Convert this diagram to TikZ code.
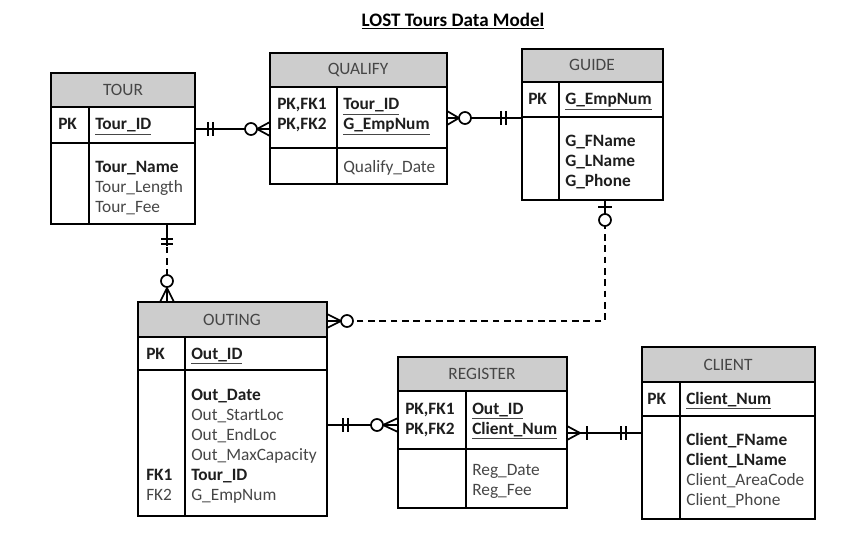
\documentclass[tikz,border=0pt]{standalone}
\usepackage{fontspec}
\setmainfont{Carlito}
\usetikzlibrary{calc}
\definecolor{hdrgray}{RGB}{205,205,205}
\definecolor{txtgray}{RGB}{70,70,70}
\definecolor{txtdark}{RGB}{30,30,30}
\tikzset{
	hdr/.style={fill=hdrgray},
	ent/.style={draw=black, line width=1pt},
	htxt/.style={text=txtgray, inner sep=0pt, font=\fontsize{13}{15}\selectfont},
	lbl/.style={anchor=base west, inner sep=0pt, align=left, text=txtgray, font=\fontsize{13}{15}\selectfont},
	rel/.style={line width=1.3pt},
	optrel/.style={rel, dash pattern=on 5pt off 3.5pt},
	knob/.style={rel, fill=white}
}
\newcommand{\bk}[1]{\textcolor{txtdark}{\textbf{#1}}}
\newcommand{\pkey}[1]{\underline{\bk{#1}}}

\begin{document}
\begin{tikzpicture}[x=0.75pt, y=-0.75pt]
	\useasboundingbox (0,0) rectangle (859,556);
	
	% Title
	\node[font=\fontsize{14.3}{16}\selectfont\bfseries] (title) at (453,21) {\underline{LOST Tours Data Model}};
	
	% TOUR (multi-line labels sit on their last baseline)
	\fill[hdr] (51,73) rectangle (195,107);
	\draw[ent] (51,73) rectangle (195,224);
	\draw[ent] (51,107) -- (195,107) (51,143) -- (195,143) (89,107) -- (89,224);
	\node[htxt] (tourH) at (123,90) {TOUR};
	\node[lbl] (tourPK) at (58,130) {\bk{PK}};
	\node[lbl] (tourKey) at (95,130) {\pkey{Tour\_ID}};
	\node[lbl] (tourAtt) at (95,212) {\bk{Tour\_Name}\\Tour\_Length\\Tour\_Fee};
	
	% QUALIFY
	\fill[hdr] (270,53) rectangle (447,87);
	\draw[ent] (270,53) rectangle (447,184);
	\draw[ent] (270,87) -- (447,87) (270,148) -- (447,148) (337,87) -- (337,184);
	\node[htxt] (qualH) at (358,70) {QUALIFY};
	\node[lbl] (qualPK) at (277,130) {\bk{PK,FK1}\\\bk{PK,FK2}};
	\node[lbl] (qualKey) at (343,130) {\pkey{Tour\_ID}\\\pkey{G\_EmpNum}};
	\node[lbl] (qualAtt) at (343,172) {Qualify\_Date};
	
	% GUIDE
	\fill[hdr] (522,49) rectangle (663,82);
	\draw[ent] (522,49) rectangle (663,200);
	\draw[ent] (522,82) -- (663,82) (522,117) -- (663,117) (559,82) -- (559,200);
	\node[htxt] (guideH) at (592,65) {GUIDE};
	\node[lbl] (guidePK) at (528,105) {\bk{PK}};
	\node[lbl] (guideKey) at (565,105) {\pkey{G\_EmpNum}};
	\node[lbl] (guideAtt) at (565,186) {\bk{G\_FName}\\\bk{G\_LName}\\\bk{G\_Phone}};
	
	% OUTING
	\fill[hdr] (138,302) rectangle (327,337);
	\draw[ent] (138,302) rectangle (327,516);
	\draw[ent] (138,337) -- (327,337) (138,370) -- (327,370) (185,337) -- (185,516);
	\node[htxt] (outH) at (232,320) {OUTING};
	\node[lbl] (outPK) at (146,359) {\bk{PK}};
	\node[lbl] (outKey) at (191,359) {\pkey{Out\_ID}};
	\node[lbl] (outAtt) at (191,500) {\bk{Out\_Date}\\Out\_StartLoc\\Out\_EndLoc\\Out\_MaxCapacity\\\bk{Tour\_ID}\\G\_EmpNum};
	\node[lbl] (outFK) at (146,500) {\bk{FK1}\\FK2};
	
	% REGISTER
	\fill[hdr] (398,357) rectangle (567,391);
	\draw[ent] (398,357) rectangle (567,508);
	\draw[ent] (398,391) -- (567,391) (398,449) -- (567,449) (466,391) -- (466,508);
	\node[htxt] (regH) at (482,374) {REGISTER};
	\node[lbl] (regPK) at (405,434) {\bk{PK,FK1}\\\bk{PK,FK2}};
	\node[lbl] (regKey) at (472,434) {\pkey{Out\_ID}\\\pkey{Client\_Num}};
	\node[lbl] (regAtt) at (472,495) {Reg\_Date\\Reg\_Fee};
	
	% CLIENT
	\fill[hdr] (642,347) rectangle (815,382);
	\draw[ent] (642,347) rectangle (815,519);
	\draw[ent] (642,382) -- (815,382) (642,416) -- (815,416) (680,382) -- (680,519);
	\node[htxt] (cliH) at (728,365) {CLIENT};
	\node[lbl] (cliPK) at (647,404) {\bk{PK}};
	\node[lbl] (cliKey) at (686,404) {\pkey{Client\_Num}};
	\node[lbl] (cliAtt) at (686,505) {\bk{Client\_FName}\\\bk{Client\_LName}\\Client\_AreaCode\\Client\_Phone};
	
	% Connector ends
	\coordinate (tourR) at (195,129); \coordinate (qualL) at (270,129);
	\coordinate (qualR) at (447,118); \coordinate (guideL) at (522,118);
	\coordinate (guideB) at (605,200); \coordinate (outR) at (327,321);
	\coordinate (tourB) at (167,224); \coordinate (outT) at (167,302);
	\coordinate (outE) at (327,425); \coordinate (regL) at (398,425);
	\coordinate (regR) at (567,433); \coordinate (cliL) at (642,433);
	
	% TOUR -- QUALIFY
	\draw[rel] (tourR) -- (qualL);
	\draw[rel] (208,122) -- (208,136) (213,122) -- (213,136);
	\draw[rel] (257,129) -- (270,122) (257,129) -- (270,136);
	\draw[knob] (251,129) circle (4.5pt);
	
	% QUALIFY -- GUIDE
	\draw[rel] (qualR) -- (guideL);
	\draw[rel] (447,111) -- (459,118) -- (447,125);
	\draw[knob] (465,118) circle (4.5pt);
	\draw[rel] (501,111) -- (501,125) (506,111) -- (506,125);
	
	% GUIDE -- OUTING
	\draw[optrel] (guideB) |- (outR);
	\draw[rel] (guideB) -- (605,214);
	\draw[rel] (598,207) -- (612,207);
	\draw[knob] (605,220) circle (4.5pt);
	\draw[rel] (327,314) -- (341,321) -- (327,328) (outR) -- (341,321);
	\draw[knob] (347,321) circle (4.5pt);
	
	% TOUR -- OUTING
	\draw[optrel] (tourB) -- (outT);
	\draw[rel] (tourB) -- (167,246);
	\draw[rel] (161,239) -- (173,239) (161,244) -- (173,244);
	\draw[rel] (160,302) -- (167,288) -- (174,302) (167,288) -- (outT);
	\draw[knob] (167,281) circle (4.5pt);
	
	% OUTING -- REGISTER
	\draw[rel] (outE) -- (regL);
	\draw[rel] (343,418) -- (343,432) (348,418) -- (348,432);
	\draw[knob] (377,425) circle (4.5pt);
	\draw[rel] (383,425) -- (398,418) (383,425) -- (398,432);
	
	% REGISTER -- CLIENT
	\draw[rel] (regR) -- (cliL);
	\draw[rel] (567,426) -- (580,433) -- (567,440);
	\draw[rel] (587,426) -- (587,440);
	\draw[rel] (621,426) -- (621,440) (626,426) -- (626,440);
	
\end{tikzpicture}
\end{document}
